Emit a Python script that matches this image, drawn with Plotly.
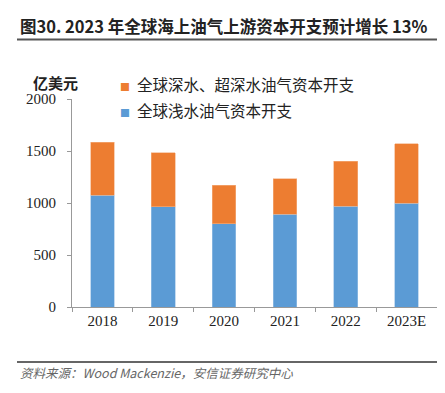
import plotly.graph_objects as go

years = ["2018", "2019", "2020", "2021", "2022", "2023E"]
shallow = [1073, 962, 801, 890, 971, 1000]
deep = [510, 519, 368, 341, 429, 570]
series_names = ["全球深水、超深水油气资本开支", "全球浅水油气资本开支"]
series_colors = ["#ED7D31", "#5B9BD5"]
y_ticks = [0, 500, 1000, 1500, 2000]

OFF = 8  # page body margin
W, H = 445 - OFF, 393 - OFF
L, R, T, B = 72 - OFF, 437 - OFF, 99 - OFF, 307 - OFF  # plot area in figure pixels

def px(x):
    return (x - OFF - L) / (R - L)

def py(y):
    return (B - (y - OFF)) / (B - T)

fig = go.Figure()
fig.add_trace(go.Bar(x=years, y=shallow, name=series_names[1],
                     marker=dict(color=series_colors[1], line=dict(color="#9ec3e6", width=0.6)),
                     showlegend=False))
fig.add_trace(go.Bar(x=years, y=deep, name=series_names[0],
                     marker=dict(color=series_colors[0], line=dict(color="#f4b183", width=0.6)),
                     showlegend=False))

fig.update_layout(
    width=W, height=H,
    margin=dict(l=L, r=W - R, t=T, b=H - B, pad=0),
    barmode="stack", bargap=0.61,
    plot_bgcolor="white", paper_bgcolor="white",
    font=dict(family="Liberation Serif", size=15, color="#222"),
)
fig.update_xaxes(
    type="category", tickson="boundaries", ticks="outside", ticklen=4,
    tickcolor="#999", showline=True, linecolor="#999", linewidth=1,
    showgrid=False, tickfont=dict(family="Liberation Serif", size=15, color="#222"),
)
fig.update_yaxes(
    range=[0, 2000], tickvals=y_ticks, ticks="outside", ticklen=4,
    tickcolor="#999", showline=True, linecolor="#999", linewidth=1,
    showgrid=False, zeroline=False, ticklabelstandoff=8,
    tickfont=dict(family="Liberation Serif", size=15, color="#222"),
)

# Title and rule lines
fig.add_annotation(xref="paper", yref="paper", x=px(18), y=py(26), xanchor="left", yanchor="middle",
                   text="<b>图30. 2023 年全球海上油气上游资本开支预计增长 13%</b>", showarrow=False,
                   font=dict(family="Noto Sans CJK SC", size=16.5, color="#222"))
fig.add_shape(type="line", xref="paper", yref="paper", x0=px(17), x1=px(445), y0=py(39.5), y1=py(39.5),
              line=dict(color="#555", width=2))
fig.add_shape(type="line", xref="paper", yref="paper", x0=px(17), x1=px(445), y0=py(362), y1=py(362),
              line=dict(color="#666", width=2))
fig.add_annotation(xref="paper", yref="paper", x=px(18), y=py(372), xanchor="left", yanchor="middle",
                   text="<i>资料来源：Wood Mackenzie，安信证券研究中心</i>", showarrow=False,
                   font=dict(family="Noto Sans CJK SC", size=12.5, color="#666"))

# Y unit
fig.add_annotation(xref="paper", yref="paper", x=px(55), y=py(82), xanchor="center", yanchor="middle",
                   text="<b>亿美元</b>", showarrow=False,
                   font=dict(family="Noto Sans CJK SC", size=15, color="#222"))

# Legend
for i, (nm, col) in enumerate(zip(series_names, series_colors)):
    yy = 84 + 26 * i
    fig.add_annotation(xref="paper", yref="paper", x=px(118), y=py(yy), xanchor="left", yanchor="middle",
                       text=f"<span style='color:{col};font-size:10px'>■</span>  {nm}", showarrow=False,
                       font=dict(family="Noto Sans CJK SC", size=15.5, color="#222"))

fig.write_html("out.html")
